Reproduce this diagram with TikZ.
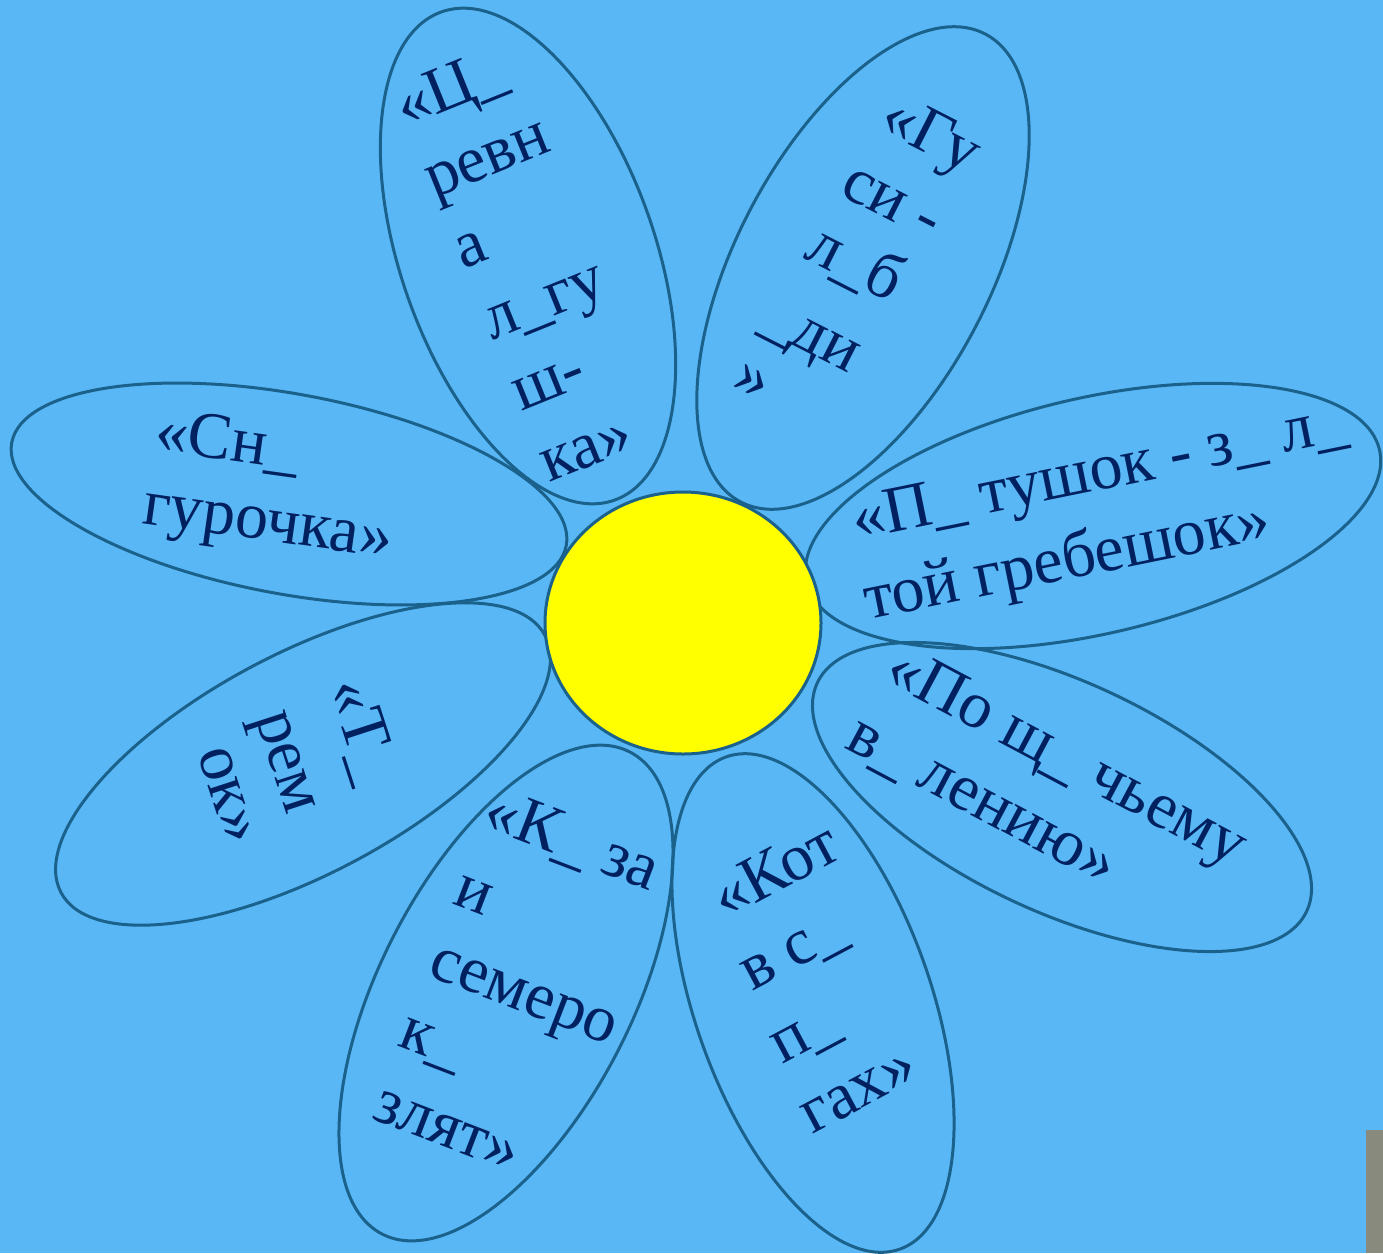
\documentclass[tikz,border=0pt]{standalone}
\usepackage{fontspec}
\setmainfont{Liberation Serif}
\usetikzlibrary{shapes.geometric}
\definecolor{bg}{RGB}{90,183,245}
\definecolor{txt}{RGB}{0,32,96}
\definecolor{edge}{RGB}{26,97,140}
\definecolor{sun}{RGB}{255,255,0}
\definecolor{bar}{RGB}{135,138,125}
\begin{document}
\begin{tikzpicture}[x=1pt,y=-1pt,
  petal/.style={draw=edge, line width=3pt, ellipse, inner sep=0pt, outer sep=0pt},
  lbl/.style={text=txt, font=\fontsize{66}{76}\selectfont, inner sep=0pt, anchor=base west}]
\fill[bg] (0,0) rectangle (1383,1253);
\useasboundingbox (0,0) rectangle (1383,1253);
\fill[bar] (1366,1130) rectangle (1383,1253);

% petals
\node[petal, minimum width=518pt, minimum height=254pt, rotate=-70.5] (p1) at (528,256) {};
\node[petal, minimum width=528pt, minimum height=254pt, rotate=62.4] (p2) at (863,268) {};
\node[petal, minimum width=588pt, minimum height=236pt, rotate=13] (p3) at (1093,516) {};
\node[petal, minimum width=540pt, minimum height=230pt, rotate=-25] (p4) at (1062,797) {};
\node[petal, minimum width=564pt, minimum height=200pt, rotate=-10.5] (p5) at (289,494) {};
\node[petal, minimum width=548pt, minimum height=220pt, rotate=28] (p6) at (303,764) {};
\node[petal, minimum width=542pt, minimum height=252pt, rotate=62.8] (p7) at (506,993) {};
\node[petal, minimum width=522pt, minimum height=236pt, rotate=-70.6] (p8) at (813,1003) {};

% centre
\node[draw=edge, fill=sun, line width=3pt, ellipse, inner sep=0pt,
      minimum width=276pt, minimum height=262pt] (c) at (683,623) {};

% petal 1
\node[lbl, rotate=22] (t1a) at (405,128) {«Ц\_};
\node[lbl, rotate=22] (t1b) at (434,199) {ревн};
\node[lbl, rotate=22] (t1c) at (463,270) {а};
\node[lbl, rotate=22] (t1d) at (492,341) {л\_гу};
\node[lbl, rotate=22] (t1e) at (521,412) {ш-};
\node[lbl, rotate=22] (t1f) at (549,483) {ка»};

% petal 2
\node[lbl, rotate=-27] (t2a) at (877,128) {«Гу};
\node[lbl, rotate=-27] (t2b) at (838,194) {си -};
\node[lbl, rotate=-27] (t2c) at (802,257) {л\_б};
\node[lbl, rotate=-27] (t2d) at (758,327) {\_ди};
\node[lbl, rotate=-27] (t2e) at (730,387) {»};

% petal 3
\node[lbl, rotate=11.5] (t3a) at (856,540) {«П\_ тушок - з\_ л\_};
\node[lbl, rotate=11.5] (t3b) at (868,620) {той гребешок»};

% petal 4
\node[lbl, rotate=-28] (t4a) at (882,680) {«По щ\_ чьему};
\node[lbl, rotate=-28] (t4b) at (843,747) {в\_ лению»};

% petal 5
\node[lbl, rotate=-8] (t5a) at (153,450) {«Сн\_};
\node[lbl, rotate=-8] (t5b) at (141,523) {гурочка»};

% petal 6
\node[lbl, rotate=-72] (t6a) at (328,686) {«Т\_};
\node[lbl, rotate=-72] (t6b) at (255,717) {рем};
\node[lbl, rotate=-72] (t6c) at (197,753) {ок»};

% petal 7
\node[lbl, rotate=-21] (t7a) at (480,826) {«К\_ за};
\node[lbl, rotate=-21] (t7b) at (451,903) {и};
\node[lbl, rotate=-21] (t7c) at (426,975) {семеро};
\node[lbl, rotate=-21] (t7d) at (396,1045) {к\_};
\node[lbl, rotate=-21] (t7e) at (370,1118) {злят»};

% petal 8
\node[lbl, rotate=28] (t8a) at (725,920) {«Кот};
\node[lbl, rotate=28] (t8b) at (752,992) {в с\_};
\node[lbl, rotate=28] (t8c) at (782,1065) {п\_};
\node[lbl, rotate=28] (t8d) at (812,1135) {гах»};
\end{tikzpicture}
\end{document}
